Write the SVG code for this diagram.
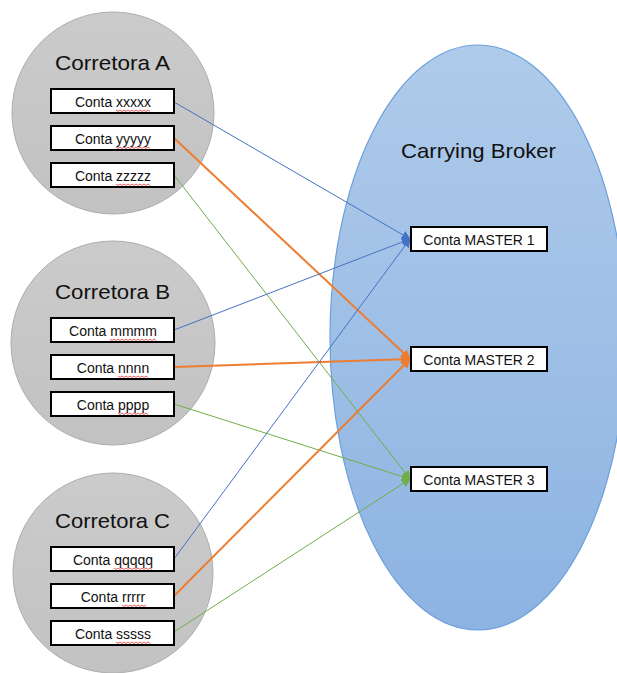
<svg xmlns="http://www.w3.org/2000/svg" width="617" height="673" viewBox="0 0 617 673">
  <defs>
    <linearGradient id="gBroker" x1="0" y1="0" x2="0" y2="1">
      <stop offset="0" stop-color="#afcbea"/>
      <stop offset="1" stop-color="#8db3e2"/>
    </linearGradient>
    <linearGradient id="gFirm" x1="0" y1="0" x2="0" y2="1">
      <stop offset="0" stop-color="#cbcbcb"/>
      <stop offset="1" stop-color="#c2c2c2"/>
    </linearGradient>
    <marker id="arBlue" viewBox="0 0 10 10" refX="9" refY="5" markerWidth="9" markerHeight="9" markerUnits="userSpaceOnUse" orient="auto">
      <path d="M0,0 L10,5 L0,10 Z" fill="#4472c4"/>
    </marker>
    <marker id="arOrange" viewBox="0 0 10 10" refX="9" refY="5" markerWidth="10" markerHeight="10" markerUnits="userSpaceOnUse" orient="auto">
      <path d="M0,0 L10,5 L0,10 Z" fill="#ed7d31"/>
    </marker>
    <marker id="arGreen" viewBox="0 0 10 10" refX="9" refY="5" markerWidth="9" markerHeight="9" markerUnits="userSpaceOnUse" orient="auto">
      <path d="M0,0 L10,5 L0,10 Z" fill="#70ad47"/>
    </marker>
  </defs>
  <style>
    .firm { fill: url(#gFirm); stroke: #adadad; stroke-width: 1; }
    .broker { fill: url(#gBroker); stroke: #6d9fd9; stroke-width: 1.2; }
    .acct { fill: #ffffff; stroke: #000000; stroke-width: 2; }
    .title { font-family: "Liberation Sans", Arial, sans-serif; font-size: 21px; fill: #111111; text-anchor: middle; }
    .lbl { font-family: "Liberation Sans", Arial, sans-serif; font-size: 14px; fill: #111111; text-anchor: middle; }
    .squig { fill: none; stroke: #e03030; stroke-width: 0.8; }
    .blue { stroke: #4472c4; stroke-width: 1; fill: none; marker-end: url(#arBlue); }
    .orange { stroke: #ed7d31; stroke-width: 2; fill: none; marker-end: url(#arOrange); }
    .green { stroke: #70ad47; stroke-width: 1; fill: none; marker-end: url(#arGreen); }
  </style>

  <rect width="617" height="673" fill="#ffffff"/>

  <!-- Carrying broker -->
  <g id="broker">
    <ellipse class="broker" cx="478" cy="337.5" rx="148" ry="292.5"/>
    <text class="title" x="478.5" y="158" textLength="155" lengthAdjust="spacingAndGlyphs">Carrying Broker</text>
  </g>

  <!-- Firm circles -->
  <g id="corretoraA">
    <circle class="firm" cx="113" cy="113" r="101"/>
    <text class="title" x="112.5" y="70" textLength="115" lengthAdjust="spacingAndGlyphs">Corretora A</text>
  </g>
  <g id="corretoraB">
    <circle class="firm" cx="113" cy="343" r="102"/>
    <text class="title" x="112.5" y="299" textLength="115" lengthAdjust="spacingAndGlyphs">Corretora B</text>
  </g>
  <g id="corretoraC">
    <circle class="firm" cx="113" cy="573" r="100"/>
    <text class="title" x="112.5" y="528" textLength="115" lengthAdjust="spacingAndGlyphs">Corretora C</text>
  </g>

  <!-- Connectors -->
  <g id="connectors">
    <line class="blue" x1="174" y1="102" x2="410" y2="239"/>
    <line class="orange" x1="174" y1="138" x2="410" y2="359"/>
    <line class="green" x1="174" y1="175" x2="410" y2="479"/>
    <line class="blue" x1="174" y1="330" x2="410" y2="239"/>
    <line class="orange" x1="174" y1="367" x2="410" y2="359"/>
    <line class="green" x1="174" y1="404" x2="410" y2="479"/>
    <line class="blue" x1="174" y1="559" x2="410" y2="239"/>
    <line class="orange" x1="174" y1="596" x2="410" y2="359"/>
    <line class="green" x1="174" y1="632" x2="410" y2="479"/>
  </g>

  <!-- Account boxes (wavy spell-check underline under each code) -->
  <g id="contaXxxxx">
    <rect class="acct" x="51" y="89" width="123" height="24"/>
    <text class="lbl" x="113" y="106.5">Conta xxxxx</text>
    <path class="squig" d="M116,110 l2,1.5 l2,-1.5 l2,1.5 l2,-1.5 l2,1.5 l2,-1.5 l2,1.5 l2,-1.5 l2,1.5 l2,-1.5 l2,1.5 l2,-1.5 l2,1.5 l2,-1.5 l2,1.5 l2,-1.5 l2,1.5"/>
  </g>
  <g id="contaYyyyy">
    <rect class="acct" x="51" y="126" width="123" height="24"/>
    <text class="lbl" x="113" y="143.5">Conta yyyyy</text>
    <path class="squig" d="M116,147 l2,1.5 l2,-1.5 l2,1.5 l2,-1.5 l2,1.5 l2,-1.5 l2,1.5 l2,-1.5 l2,1.5 l2,-1.5 l2,1.5 l2,-1.5 l2,1.5 l2,-1.5 l2,1.5 l2,-1.5 l2,1.5"/>
  </g>
  <g id="contaZzzzz">
    <rect class="acct" x="51" y="163" width="123" height="24"/>
    <text class="lbl" x="113" y="180.5">Conta zzzzz</text>
    <path class="squig" d="M116,184 l2,1.5 l2,-1.5 l2,1.5 l2,-1.5 l2,1.5 l2,-1.5 l2,1.5 l2,-1.5 l2,1.5 l2,-1.5 l2,1.5 l2,-1.5 l2,1.5 l2,-1.5 l2,1.5 l2,-1.5 l2,1.5"/>
  </g>
  <g id="contaMmmm">
    <rect class="acct" x="51" y="318" width="123" height="24"/>
    <text class="lbl" x="113" y="335.5">Conta mmmm</text>
    <path class="squig" d="M110,339 l2,1.5 l2,-1.5 l2,1.5 l2,-1.5 l2,1.5 l2,-1.5 l2,1.5 l2,-1.5 l2,1.5 l2,-1.5 l2,1.5 l2,-1.5 l2,1.5 l2,-1.5 l2,1.5 l2,-1.5 l2,1.5 l2,-1.5 l2,1.5 l2,-1.5 l2,1.5 l2,-1.5 l2,1.5"/>
  </g>
  <g id="contaNnnn">
    <rect class="acct" x="51" y="355" width="123" height="24"/>
    <text class="lbl" x="113" y="372.5">Conta nnnn</text>
    <path class="squig" d="M118,376 l2,1.5 l2,-1.5 l2,1.5 l2,-1.5 l2,1.5 l2,-1.5 l2,1.5 l2,-1.5 l2,1.5 l2,-1.5 l2,1.5 l2,-1.5 l2,1.5 l2,-1.5 l2,1.5"/>
  </g>
  <g id="contaPppp">
    <rect class="acct" x="51" y="392" width="123" height="24"/>
    <text class="lbl" x="113" y="409.5">Conta pppp</text>
    <path class="squig" d="M118,413 l2,1.5 l2,-1.5 l2,1.5 l2,-1.5 l2,1.5 l2,-1.5 l2,1.5 l2,-1.5 l2,1.5 l2,-1.5 l2,1.5 l2,-1.5 l2,1.5 l2,-1.5 l2,1.5"/>
  </g>
  <g id="contaQqqqq">
    <rect class="acct" x="51" y="547" width="123" height="24"/>
    <text class="lbl" x="113" y="564.5">Conta qqqqq</text>
    <path class="squig" d="M114,568 l2,1.5 l2,-1.5 l2,1.5 l2,-1.5 l2,1.5 l2,-1.5 l2,1.5 l2,-1.5 l2,1.5 l2,-1.5 l2,1.5 l2,-1.5 l2,1.5 l2,-1.5 l2,1.5 l2,-1.5 l2,1.5 l2,-1.5 l2,1.5"/>
  </g>
  <g id="contaRrrrr">
    <rect class="acct" x="51" y="584" width="123" height="24"/>
    <text class="lbl" x="113" y="601.5">Conta rrrrr</text>
    <path class="squig" d="M122,605 l2,1.5 l2,-1.5 l2,1.5 l2,-1.5 l2,1.5 l2,-1.5 l2,1.5 l2,-1.5 l2,1.5 l2,-1.5 l2,1.5 l2,-1.5"/>
  </g>
  <g id="contaSssss">
    <rect class="acct" x="51" y="621" width="123" height="24"/>
    <text class="lbl" x="113" y="638.5">Conta sssss</text>
    <path class="squig" d="M116,642 l2,1.5 l2,-1.5 l2,1.5 l2,-1.5 l2,1.5 l2,-1.5 l2,1.5 l2,-1.5 l2,1.5 l2,-1.5 l2,1.5 l2,-1.5 l2,1.5 l2,-1.5 l2,1.5 l2,-1.5 l2,1.5"/>
  </g>

  <!-- Master accounts -->
  <g id="master1">
    <rect class="acct" x="411" y="227" width="136" height="24"/>
    <text class="lbl" x="479" y="244.5">Conta MASTER 1</text>
  </g>
  <g id="master2">
    <rect class="acct" x="411" y="347" width="136" height="24"/>
    <text class="lbl" x="479" y="364.5">Conta MASTER 2</text>
  </g>
  <g id="master3">
    <rect class="acct" x="411" y="467" width="136" height="24"/>
    <text class="lbl" x="479" y="484.5">Conta MASTER 3</text>
  </g>
</svg>
